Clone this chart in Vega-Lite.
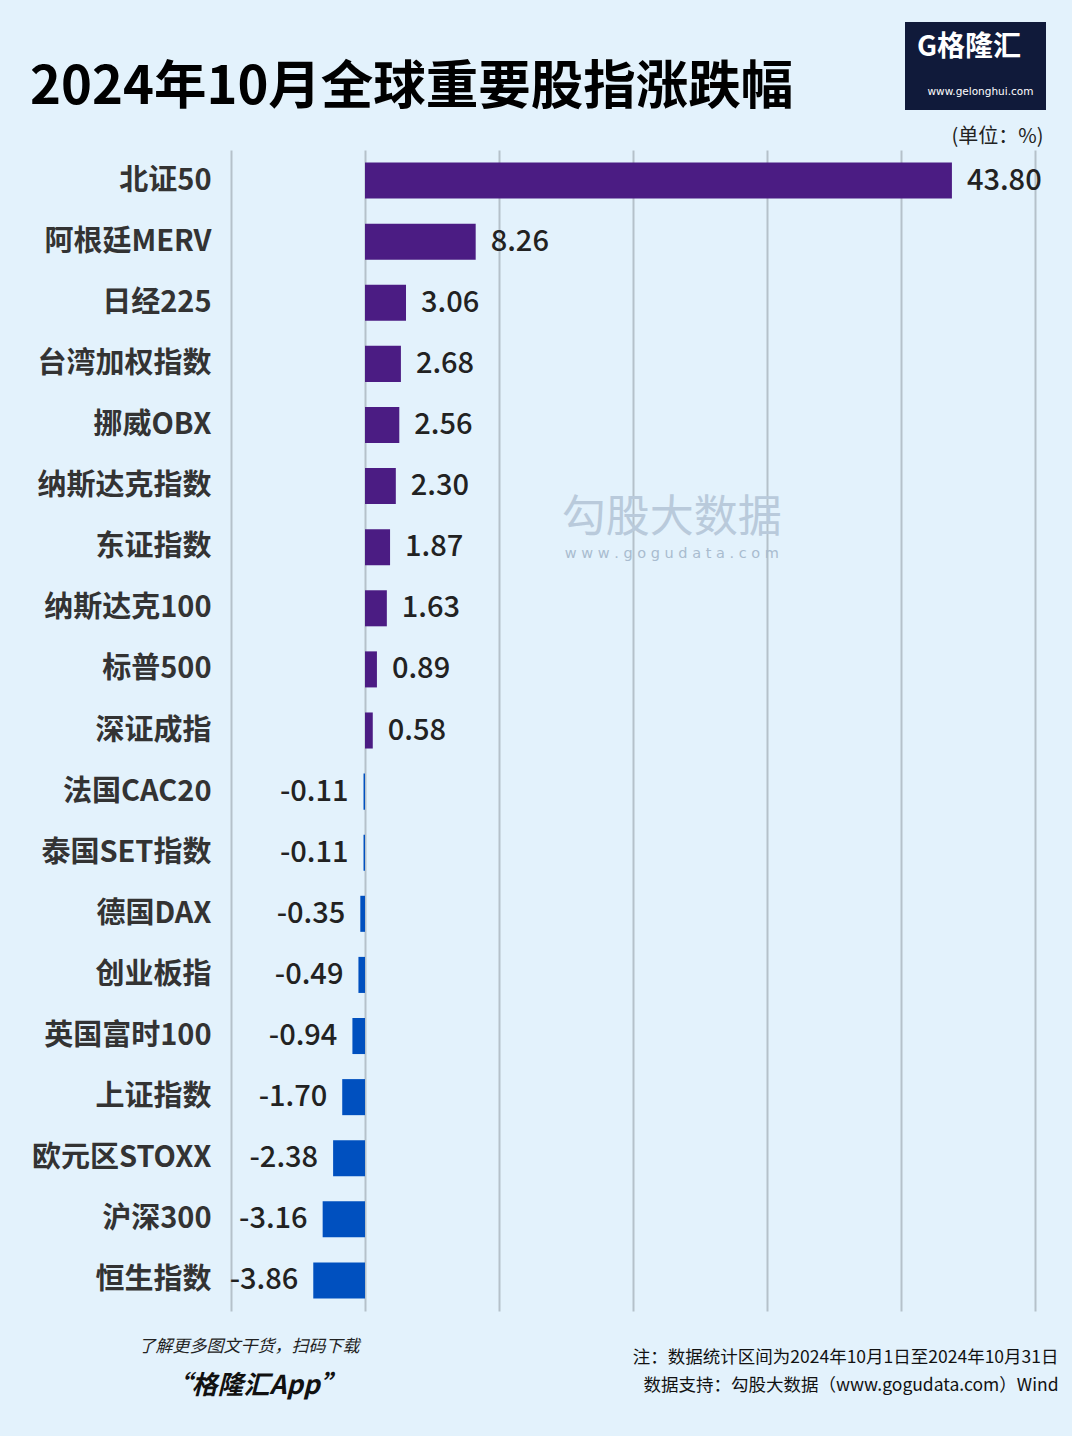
{
  "$schema": "https://vega.github.io/schema/vega-lite/v6.json",
  "autosize": {"type": "none"},
  "padding": {"left": 231, "top": 150, "right": 37, "bottom": 125},
  "width": 804,
  "height": 1161,
  "background": "#e3f2fc",
  "config": {
    "view": {"stroke": null},
    "font": "Noto Sans CJK SC",
    "axis": {"labelFont": "Noto Sans CJK SC", "titleFont": "Noto Sans CJK SC"},
    "locale": {"number": {"decimal": ".", "thousands": ",", "grouping": [3], "currency": ["", ""], "minus": "-"}}
  },
  "title": {
    "text": "2024年10月全球重要股指涨跌幅",
    "anchor": "start",
    "frame": "group",
    "dx": -201,
    "dy": 103,
    "fontSize": 52.5,
    "fontWeight": "bold",
    "color": "#000000",
    "font": "Noto Sans CJK SC",
    "offset": 10
  },
  "data": {
    "values": [
      {"name": "北证50", "value": 43.80},
      {"name": "阿根廷MERV", "value": 8.26},
      {"name": "日经225", "value": 3.06},
      {"name": "台湾加权指数", "value": 2.68},
      {"name": "挪威OBX", "value": 2.56},
      {"name": "纳斯达克指数", "value": 2.30},
      {"name": "东证指数", "value": 1.87},
      {"name": "纳斯达克100", "value": 1.63},
      {"name": "标普500", "value": 0.89},
      {"name": "深证成指", "value": 0.58},
      {"name": "法国CAC20", "value": -0.11},
      {"name": "泰国SET指数", "value": -0.11},
      {"name": "德国DAX", "value": -0.35},
      {"name": "创业板指", "value": -0.49},
      {"name": "英国富时100", "value": -0.94},
      {"name": "上证指数", "value": -1.70},
      {"name": "欧元区STOXX", "value": -2.38},
      {"name": "沪深300", "value": -3.16},
      {"name": "恒生指数", "value": -3.86}
    ]
  },
  "resolve": {"axis": {"x": "independent", "y": "independent"}},
  "layer": [
    {
      "data": {"values": [{}]},
      "mark": {"type": "text", "text": "勾股大数据", "fontSize": 44, "align": "center", "baseline": "middle", "dy": -28, "font": "Noto Sans CJK SC"},
      "encoding": {
        "x": {"datum": 22.9, "type": "quantitative", "axis": null},
        "y": {"datum": "东证指数", "type": "nominal", "axis": null},
        "color": {
          "datum": "www.gelonghui.com", "type": "nominal",
          "scale": {"range": ["#b9cadb"]},
          "legend": {
            "orient": "none", "legendX": 674, "legendY": -128,
            "fillColor": "#101a3a", "padding": 12, "cornerRadius": 0,
            "title": "G格隆汇", "titleColor": "#ffffff", "titleFontSize": 28, "titleFontWeight": "bold",
            "titleFont": "Noto Sans CJK SC", "titlePadding": 25,
            "labelColor": "#ffffff", "labelFontSize": 10.5, "labelFont": "DejaVu Sans",
            "symbolOpacity": 0, "symbolSize": 0, "symbolStrokeWidth": 0, "labelOffset": 0
          }
        }
      }
    },
    {
      "data": {"values": [{}]},
      "mark": {"type": "text", "text": "w w w . g o g u d a t a . c o m", "fontSize": 14.5, "color": "#a9bccf", "align": "center", "baseline": "middle", "dy": 7, "font": "DejaVu Sans"},
      "encoding": {
        "x": {"datum": 22.9, "type": "quantitative", "axis": null},
        "y": {"datum": "东证指数", "type": "nominal", "axis": null}
      }
    },
    {
      "mark": {"type": "bar"},
      "encoding": {
        "x": {
          "field": "value", "type": "quantitative",
          "scale": {"domain": [-10, 50], "nice": false},
          "axis": {
            "orient": "bottom",
            "values": [-10, 0, 10, 20, 30, 40, 50],
            "grid": true, "gridColor": "#b5c1ca", "gridWidth": 2,
            "labels": false, "ticks": false, "domain": false,
            "title": ["注：数据统计区间为2024年10月1日至2024年10月31日", "数据支持：勾股大数据（www.gogudata.com）Wind"],
            "titleX": 827, "titleY": 51, "titleAlign": "right", "titleAnchor": "end",
            "titleBaseline": "alphabetic",
            "titleFontSize": 17.5, "titleFontWeight": "normal", "titleColor": "#111111", "titleLineHeight": 28
          }
        },
        "y": {
          "field": "name", "type": "nominal",
          "sort": ["北证50", "阿根廷MERV", "日经225", "台湾加权指数", "挪威OBX", "纳斯达克指数", "东证指数", "纳斯达克100", "标普500", "深证成指", "法国CAC20", "泰国SET指数", "德国DAX", "创业板指", "英国富时100", "上证指数", "欧元区STOXX", "沪深300", "恒生指数"],
          "scale": {"paddingInner": 0.41, "paddingOuter": 0.205},
          "axis": {
            "orient": "left",
            "labelFontSize": 29, "labelFontWeight": "bold", "labelColor": "#333333", "labelPadding": 20,
            "ticks": false, "domain": false, "grid": false,
            "title": "了解更多图文干货，扫码下载",
            "titleAngle": 0, "titleX": -93, "titleY": 1201, "titleAlign": "left", "titleBaseline": "alphabetic",
            "titleFontSize": 17, "titleFontWeight": "normal", "titleFontStyle": "italic", "titleColor": "#222222"
          }
        },
        "color": {"condition": {"test": "datum.value < 0", "value": "#0050bf"}, "value": "#4b1c83"}
      }
    },
    {
      "transform": [{"filter": "datum.value >= 0"}],
      "mark": {"type": "text", "align": "left", "baseline": "middle", "dx": 15, "fontSize": 29, "fontWeight": 500, "color": "#222222"},
      "encoding": {
        "x": {
          "field": "value", "type": "quantitative",
          "axis": {
            "orient": "top", "grid": false, "labels": false, "ticks": false, "domain": false,
            "title": "(单位：%)", "titleX": 812, "titleY": -8, "titleAlign": "right", "titleBaseline": "alphabetic",
            "titleFontSize": 20, "titleFontWeight": "normal", "titleColor": "#222222"
          }
        },
        "y": {
          "field": "name", "type": "nominal",
          "sort": ["北证50", "阿根廷MERV", "日经225", "台湾加权指数", "挪威OBX", "纳斯达克指数", "东证指数", "纳斯达克100", "标普500", "深证成指", "法国CAC20", "泰国SET指数", "德国DAX", "创业板指", "英国富时100", "上证指数", "欧元区STOXX", "沪深300", "恒生指数"],
          "axis": {
            "orient": "right", "labels": false, "ticks": false, "domain": false, "grid": false,
            "title": "“格隆汇App”", "titleAngle": 0, "titleX": -870, "titleY": 1243, "titleAlign": "left", "titleBaseline": "alphabetic",
            "titleFontSize": 26, "titleFontWeight": "bold", "titleFontStyle": "italic", "titleColor": "#111111"
          }
        },
        "text": {"field": "value", "type": "quantitative", "format": ".2f"}
      }
    },
    {
      "transform": [{"filter": "datum.value < 0"}],
      "mark": {"type": "text", "align": "right", "baseline": "middle", "dx": -15, "fontSize": 29, "fontWeight": 500, "color": "#222222"},
      "encoding": {
        "x": {"field": "value", "type": "quantitative", "axis": null},
        "y": {
          "field": "name", "type": "nominal",
          "sort": ["北证50", "阿根廷MERV", "日经225", "台湾加权指数", "挪威OBX", "纳斯达克指数", "东证指数", "纳斯达克100", "标普500", "深证成指", "法国CAC20", "泰国SET指数", "德国DAX", "创业板指", "英国富时100", "上证指数", "欧元区STOXX", "沪深300", "恒生指数"],
          "axis": null
        },
        "text": {"field": "value", "type": "quantitative", "format": ".2f"}
      }
    }
  ]
}
